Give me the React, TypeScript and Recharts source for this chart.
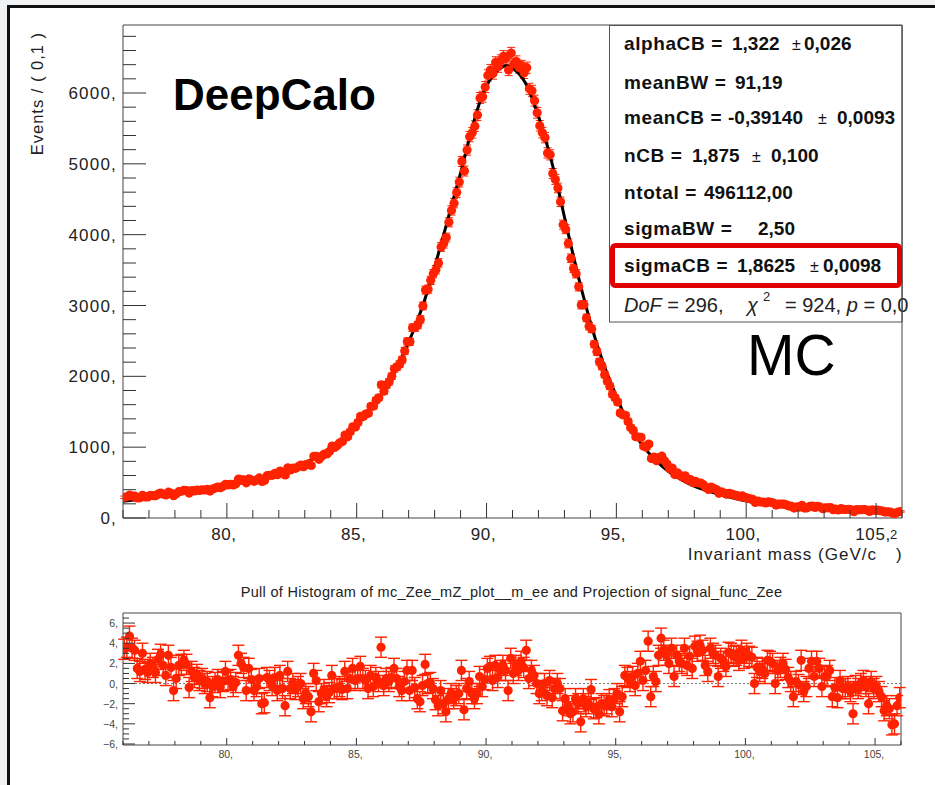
import React from "react";
import {
  ComposedChart,
  Scatter,
  Line,
  XAxis,
  YAxis,
  ErrorBar,
  ReferenceArea,
  ReferenceLine,
} from "recharts";

const FONT = '"Liberation Sans", Arial, Helvetica, sans-serif';
const RED = "#ff2200";

// histogram binning: 300 bins of 0.1 GeV between 76 and 106
const BIN_LO = 76;
const BIN_W = 0.1;

// events per bin
const eventCounts = [
  292, 300, 322, 308, 309, 284, 285, 320, 298, 298,
  319, 316, 313, 339, 352, 339, 326, 365, 348, 314,
  342, 371, 378, 391, 388, 352, 387, 382, 394, 389,
  398, 395, 405, 380, 409, 423, 436, 428, 448, 476,
  467, 476, 467, 483, 550, 539, 538, 496, 551, 535,
  518, 537, 566, 516, 528, 598, 602, 602, 632, 612,
  662, 640, 608, 709, 678, 704, 702, 725, 748, 724,
  755, 765, 741, 870, 869, 828, 871, 903, 904, 938,
  1014, 997, 1025, 1061, 1081, 1172, 1148, 1217, 1287, 1286,
  1350, 1436, 1432, 1467, 1480, 1577, 1580, 1663, 1698, 1880,
  1791, 1877, 1924, 2001, 2106, 2132, 2172, 2234, 2359, 2492,
  2487, 2685, 2688, 2724, 2803, 2994, 3218, 3230, 3355, 3448,
  3505, 3601, 3826, 3874, 3959, 4175, 4342, 4445, 4594, 4742,
  5034, 4898, 5194, 5384, 5438, 5532, 5688, 5930, 5948, 6084,
  6248, 6324, 6274, 6432, 6372, 6458, 6517, 6488, 6325, 6563,
  6414, 6444, 6361, 6382, 6285, 6357, 6059, 6031, 5892, 5720,
  5538, 5440, 5370, 5154, 5127, 4864, 4779, 4660, 4464, 4141,
  4078, 3876, 3667, 3524, 3448, 3263, 3008, 3012, 2825, 2708,
  2669, 2453, 2346, 2205, 2140, 2024, 1935, 1860, 1746, 1697,
  1637, 1484, 1456, 1450, 1363, 1278, 1237, 1147, 1143, 1139,
  1014, 999, 1044, 839, 861, 809, 854, 873, 807, 764,
  694, 705, 613, 639, 603, 578, 595, 537, 543, 499,
  517, 494, 493, 470, 428, 404, 438, 417, 402, 349,
  368, 352, 334, 349, 338, 324, 318, 301, 311, 291,
  282, 271, 264, 219, 238, 226, 225, 213, 227, 222,
  212, 182, 195, 195, 196, 184, 171, 163, 140, 158,
  153, 180, 140, 144, 164, 169, 149, 165, 155, 131,
  143, 143, 147, 118, 127, 114, 131, 121, 120, 122,
  115, 90, 119, 115, 118, 120, 113, 93, 116, 108,
  110, 104, 98, 83, 87, 84, 66, 66, 85, 92,
];

// pull per bin
const pullValues = [
  3.4, 3.6, 4.7, 3.5, 3.3, 1.5, 1.2, 3.0, 1.4, 1.1,
  2.0, 1.6, 1.1, 2.4, 2.9, 1.8, 0.8, 2.8, 1.6, -0.7,
  0.5, 1.8, 1.9, 2.3, 1.9, -0.4, 1.2, 0.6, 0.9, 0.3,
  0.5, 0.0, 0.2, -1.4, -0.3, 0.1, 0.4, -0.4, 0.2, 1.2,
  0.3, 0.4, -0.3, 0.1, 2.8, 2.0, 1.6, -0.7, 1.5, 0.4,
  -0.7, -0.3, 0.5, -2.0, -1.9, 0.6, 0.3, -0.2, 0.6, -0.7,
  0.8, -0.5, -2.2, 1.2, -0.5, 0.0, -0.6, -0.3, 0.0, -1.5,
  -1.0, -1.3, -2.8, 1.0, 0.3, -1.8, -1.0, -0.6, -1.3, -0.9,
  0.8, -0.5, -0.5, -0.3, -0.6, 1.2, -0.5, 0.5, 1.5, 0.3,
  0.5, 1.7, 0.5, 0.3, -0.5, 0.8, -0.3, 0.6, 0.2, 3.6,
  -0.2, 0.5, 0.2, 0.6, 1.5, 0.5, -0.3, -0.7, 0.2, 1.3,
  -0.7, 1.3, -0.4, -1.5, -1.8, -0.2, 1.9, 0.0, 0.1, -0.5,
  -1.6, -2.2, -0.7, -2.0, -2.8, -1.5, -1.0, -1.5, -1.2, -1.0,
  1.3, -2.6, -0.5, 0.2, -1.0, -1.5, -1.0, 0.7, -0.3, 0.4,
  1.5, 1.7, 0.3, 1.8, 0.6, 1.3, 1.8, 1.3, -0.7, 2.5,
  1.0, 1.8, 1.3, 2.2, 1.6, 3.3, 0.5, 1.3, 0.8, 0.0,
  -1.0, -0.7, 0.0, -1.2, 0.3, -1.4, -0.5, 0.0, -0.5, -2.7,
  -1.5, -2.2, -3.0, -2.8, -1.5, -2.0, -3.8, -1.5, -2.3, -2.0,
  -0.6, -2.5, -2.4, -3.0, -2.0, -2.2, -2.0, -1.6, -2.3, -1.5,
  -1.0, -2.8, -1.3, 0.8, 0.6, 0.2, 0.7, -0.2, 1.0, 2.2,
  0.3, 1.3, 4.2, -1.3, 0.7, 0.2, 2.8, 4.5, 3.3, 2.8,
  2.0, 3.5, 0.7, 2.8, 2.2, 2.0, 3.5, 1.8, 2.7, 1.5,
  3.7, 3.2, 3.8, 3.3, 1.8, 1.2, 3.5, 3.0, 2.8, 0.7,
  2.5, 2.2, 1.7, 3.1, 3.0, 2.7, 2.8, 2.3, 3.3, 2.5,
  3.0, 2.7, 2.6, 0.0, 1.6, 1.2, 1.5, 1.0, 2.3, 2.2,
  2.0, 0.0, 1.3, 1.6, 2.0, 1.4, 0.6, 0.2, -1.3, 0.2,
  -0.1, 2.3, -0.8, -0.3, 1.5, 2.2, 0.7, 2.2, 1.5, -0.3,
  0.7, 0.8, 1.3, -1.3, -0.4, -1.4, 0.3, -0.5, -0.5, -0.3,
  -0.8, -3.0, -0.2, -0.5, 0.0, 0.3, -0.3, -2.0, 0.2, -0.5,
  -0.3, -0.8, -1.3, -2.7, -2.2, -2.5, -4.1, -4.0, -2.2, -1.4,
];

// fitted signal function, sampled from the black curve
const fitMass = [
  76, 76.5, 77, 77.5, 78, 78.5, 79, 79.5, 80, 80.5, 81, 81.5, 82, 82.5, 83,
  83.5, 84, 84.5, 85, 85.5, 86, 86.5, 87, 87.5, 88, 88.25, 88.5, 88.75, 89,
  89.25, 89.5, 89.75, 90, 90.25, 90.5, 90.75, 91, 91.25, 91.5, 91.75, 92,
  92.25, 92.5, 92.75, 93, 93.25, 93.5, 93.75, 94, 94.5, 95, 95.5, 96, 96.5,
  97, 97.5, 98, 98.5, 99, 99.5, 100, 100.5, 101, 101.5, 102, 102.5, 103,
  103.5, 104, 104.5, 105, 105.5, 106,
];
const fitEvents = [
  235, 258, 282, 305, 330, 356, 385, 418, 456, 492, 530, 580, 635, 700, 775,
  870, 975, 1115, 1305, 1525, 1770, 2080, 2480, 2950, 3540, 3870, 4200, 4540, 4870,
  5230, 5580, 5880, 6100, 6250, 6340, 6385, 6350, 6270, 6140, 5930, 5670,
  5370, 5040, 4660, 4250, 3850, 3460, 3100, 2760, 2180, 1720, 1300, 1030, 820,
  660, 540, 450, 385, 330, 282, 240, 210, 188, 168, 155, 144, 136,
  130, 125, 118, 113, 110, 107,
];

const massTicks = [
  76, 77, 78, 79, 80, 81, 82, 83, 84, 85, 86, 87, 88, 89, 90, 91, 92, 93, 94,
  95, 96, 97, 98, 99, 100, 101, 102, 103, 104, 105, 106,
];
const eventTicks = [
  0, 200, 400, 600, 800, 1000, 1200, 1400, 1600, 1800, 2000, 2200, 2400, 2600,
  2800, 3000, 3200, 3400, 3600, 3800, 4000, 4200, 4400, 4600, 4800, 5000, 5200,
  5400, 5600, 5800, 6000, 6200, 6400, 6600, 6800,
];
const pullTicks = [
  -6, -5.5, -5, -4.5, -4, -3.5, -3, -2.5, -2, -1.5, -1, -0.5, 0, 0.5, 1, 1.5,
  2, 2.5, 3, 3.5, 4, 4.5, 5, 5.5, 6, 6.5,
];

const fitParams = [
  { label: "alphaCB = ", value: "1,322", vx: 732, err: "0,026", px: 792, ex: 804 },
  { label: "meanBW = ", value: "91,19", vx: 735 },
  { label: "meanCB = ", value: "-0,39140", vx: 728, err: "0,0093", px: 818, ex: 837 },
  { label: "nCB = ", value: "1,875", vx: 692, err: "0,100", px: 752, ex: 771 },
  { label: "ntotal = ", value: "496112,00", vx: 704 },
  { label: "sigmaBW = ", value: "2,50", vx: 758 },
  { label: "sigmaCB = ", value: "1,8625", vx: 737, err: "0,0098", px: 810, ex: 823 },
];
const paramBaselines = [50, 89, 124, 162, 199, 235, 272];

const binCenter = (i: number) => BIN_LO + BIN_W * (i + 0.5);
const points = eventCounts.map((v, i) => ({ m: binCenter(i), v, err: Math.sqrt(v) }));
const pulls = pullValues.map((v, i) => ({ m: binCenter(i), v, err: 1 }));
const fitCurve = fitMass.map((m, i) => ({ m, v: fitEvents[i] }));

const dot = (p: any) => <circle cx={p.cx} cy={p.cy} r={4.6} fill={RED} />;

function MainXTick(p: any) {
  const v = p.payload.value;
  const major = v % 5 === 0;
  return (
    <g>
      <line x1={p.x} x2={p.x} y1={p.y} y2={p.y - (major ? 15 : 8)} stroke="#333" />
      {major && (
        <text x={p.x - 3} y={p.y + 22} textAnchor="middle" fontSize={17} letterSpacing={0.6} fill="#222" fontFamily={FONT}>
          {v},
        </text>
      )}
    </g>
  );
}

function MainYTick(p: any) {
  const v = p.payload.value;
  const major = v % 1000 === 0;
  return (
    <g>
      <line x1={p.x} x2={p.x + (major ? 23 : 13)} y1={p.y} y2={p.y} stroke="#333" />
      {major && (
        <text x={p.x - 6} y={p.y + 6} textAnchor="end" fontSize={17} letterSpacing={1.2} fill="#222" fontFamily={FONT}>
          {v},
        </text>
      )}
    </g>
  );
}

function PullXTick(p: any) {
  const v = p.payload.value;
  const major = v % 5 === 0;
  return (
    <g>
      <line x1={p.x} x2={p.x} y1={p.y} y2={p.y - (major ? 7 : 4)} stroke="#333" />
      {major && (
        <text x={p.x - 1} y={p.y + 13} textAnchor="middle" fontSize={10.5} fill="#444" fontFamily={FONT}>
          {v},
        </text>
      )}
    </g>
  );
}

function PullYTick(p: any) {
  const v = p.payload.value;
  const major = v % 2 === 0;
  const txt = (v < 0 ? "\u2212" + Math.abs(v) : String(v)) + ",";
  return (
    <g>
      <line x1={p.x} x2={p.x + (major ? 12 : 6)} y1={p.y} y2={p.y} stroke="#333" />
      {major && (
        <text x={p.x - 5} y={p.y + 4} textAnchor="end" fontSize={10.5} fill="#444" fontFamily={FONT}>
          {txt}
        </text>
      )}
    </g>
  );
}

export default function App() {
  return (
    <div style={{ position: "absolute", left: 0, top: 0, width: 935, height: 785, background: "#f1f2f4", overflow: "hidden", fontFamily: FONT }}>
      <div style={{ position: "absolute", left: 7, top: 5, width: 940, height: 800, background: "#fff", borderLeft: "3px solid #111", borderTop: "3px solid #111", boxSizing: "border-box" }} />

      <div style={{ position: "absolute", left: 0, top: 0 }}>
        <ComposedChart width={935} height={560} margin={{ top: 25, right: 33, bottom: 0, left: 0 }}>
          <XAxis type="number" dataKey="m" domain={[76, 106]} ticks={massTicks} interval={0} height={42}
            tickSize={0} tickMargin={0} axisLine={false} tickLine={false} allowDataOverflow
            tick={(p: any) => <MainXTick {...p} />} />
          <YAxis type="number" dataKey="v" domain={[0, 6960]} ticks={eventTicks} interval={0} width={123}
            tickSize={0} tickMargin={0} axisLine={false} tickLine={false} allowDataOverflow
            tick={(p: any) => <MainYTick {...p} />} />
          <ReferenceArea x1={76} x2={106} y1={0} y2={6960} fill="none" stroke="#444" strokeWidth={1} />
          <Scatter data={points} dataKey="v" shape={dot} isAnimationActive={false}>
            <ErrorBar dataKey="err" direction="y" width={4} stroke={RED} strokeWidth={1} />
          </Scatter>
          <Line data={fitCurve} dataKey="v" type="monotone" stroke="#000" strokeWidth={3} dot={false} isAnimationActive={false} />
        </ComposedChart>
      </div>

      <div style={{ position: "absolute", left: 0, top: 560 }}>
        <ComposedChart width={935} height={225} margin={{ top: 53, right: 34, bottom: 0, left: 0 }}>
          <XAxis type="number" dataKey="m" domain={[76, 106]} ticks={massTicks} interval={0} height={40}
            tickSize={0} tickMargin={0} axisLine={false} tickLine={false} allowDataOverflow
            tick={(p: any) => <PullXTick {...p} />} />
          <YAxis type="number" dataKey="v" domain={[-6.1, 7]} ticks={pullTicks} interval={0} width={123}
            tickSize={0} tickMargin={0} axisLine={false} tickLine={false} allowDataOverflow
            tick={(p: any) => <PullYTick {...p} />} />
          <ReferenceArea x1={76} x2={106} y1={-6.1} y2={7} fill="none" stroke="#444" strokeWidth={1} />
          <ReferenceLine y={0} stroke="#777" strokeDasharray="2 2" />
          <Scatter data={pulls} dataKey="v" shape={dot} isAnimationActive={false}>
            <ErrorBar dataKey="err" direction="y" width={6} stroke={RED} strokeWidth={1.4} />
          </Scatter>
        </ComposedChart>
      </div>

      <svg width={935} height={785} style={{ position: "absolute", left: 0, top: 0, pointerEvents: "none" }} fontFamily={FONT}>
        <text x={37} y={32} transform="rotate(-90 37 32)" dy={6} textAnchor="end" fontSize={16.5} letterSpacing={1} fill="#222">
          Events / ( 0,1 )
        </text>
        <text x={877} y={560} textAnchor="end" fontSize={17} letterSpacing={1} fill="#222">Invariant mass (GeV/c</text>
        <text x={890} y={539} fontSize={13} fill="#222">2</text>
        <text x={896} y={560} fontSize={17} fill="#222">)</text>

        <text x={173} y={110} fontSize={44} fontWeight="bold" fill="#000">DeepCalo</text>
        <text x={747} y={375} fontSize={57} fill="#000">MC</text>

        <rect x={609.5} y={25.5} width={292.5} height={296.5} fill="#fff" stroke="#555" strokeWidth={1} />
        {fitParams.map((r, i) => (
          <g key={r.label} fill="#111">
            <text x={624} y={paramBaselines[i]} fontSize={19} fontWeight="bold" letterSpacing={0.6}>{r.label}</text>
            <text x={r.vx} y={paramBaselines[i]} fontSize={19} fontWeight="bold">{r.value}</text>
            {r.err && <text x={r.px} y={paramBaselines[i]} fontSize={16}>±</text>}
            {r.err && <text x={r.ex} y={paramBaselines[i]} fontSize={19} fontWeight="bold">{r.err}</text>}
          </g>
        ))}
        <g fill="#222" fontSize={20}>
          <text x={624} y={312}>
            <tspan fontStyle="italic">DoF</tspan> = 296,
          </text>
          <text x={747} y={312} fontStyle="italic">χ</text>
          <text x={763} y={301} fontSize={13}>2</text>
          <text x={785} y={312}>
            = 924, <tspan fontStyle="italic">p</tspan> = 0,0
          </text>
        </g>
        <line x1={902} x2={902} y1={25} y2={322} stroke="#555" strokeWidth={1} />
        <rect x={612.5} y={245.5} width={287} height={40} rx={3} fill="none" stroke="#e00000" strokeWidth={5} />

        <text x={511.5} y={597} textAnchor="middle" fontSize={14.5} letterSpacing={0.3} fill="#222">
          Pull of Histogram of mc_Zee_mZ_plot__m_ee and Projection of signal_func_Zee
        </text>
      </svg>
    </div>
  );
}
